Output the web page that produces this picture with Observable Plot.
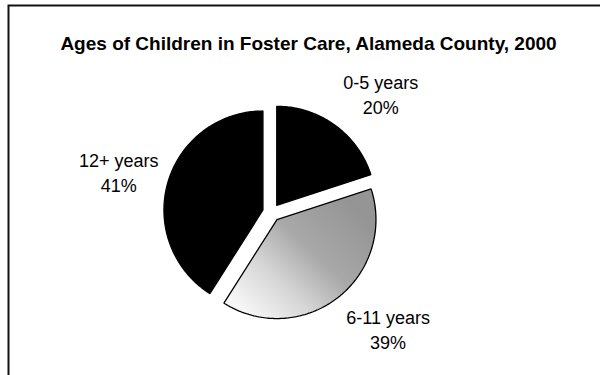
<!DOCTYPE html>
<html><head><meta charset="utf-8">
<script src="https://cdn.jsdelivr.net/npm/d3@7"></script>
<script src="https://cdn.jsdelivr.net/npm/@observablehq/plot@0.6"></script>
<style>
html,body{margin:0;padding:0;background:#fff;}
#chart{width:600px;height:375px;overflow:hidden;}
</style></head><body><div id="chart"></div>
<script>
const title = "Ages of Children in Foster Care, Alameda County, 2000";
const categories = ["0-5 years", "6-11 years", "12+ years"];
const shares = [20, 39, 41];

// layout constants (pixels)
const radiusPx = 99;
const font = "'Liberation Sans', Arial, Helvetica, sans-serif";

const total = d3.sum(shares);
const explode = 0.09;      // slice offset, in radius units
const labelRho = 1.18;     // label corner distance, in radius units
const wedgePoints = [];
const labelRows = [];
let acc = 0;
categories.forEach((cat, i) => {
  const a0 = acc / total * 2 * Math.PI;
  acc += shares[i];
  const a1 = acc / total * 2 * Math.PI;
  const mid = (a0 + a1) / 2;
  const ox = explode * Math.sin(mid), oy = explode * Math.cos(mid);
  const pts = [[ox, oy]];
  const n = Math.max(2, Math.ceil((a1 - a0) / (Math.PI / 180)));
  for (let k = 0; k <= n; k++) {
    const a = a0 + (a1 - a0) * k / n;
    pts.push([ox + Math.sin(a), oy + Math.cos(a)]);
  }
  pts.push([ox, oy]);
  pts.forEach(([x, y]) => wedgePoints.push({cat, x, y}));
  const hw = cat.length * 4.5 / radiusPx;
  const hh = 30 / radiusPx;
  labelRows.push({
    text: `${cat}\n${shares[i]}%`,
    x: labelRho * Math.sin(mid) + Math.sign(Math.sin(mid)) * hw,
    y: labelRho * Math.cos(mid) + Math.cos(mid) * hh
  });
});

const cx = 271, cy = 212;
const svg = Plot.plot({
  width: 600,
  height: 375,
  margin: 0,
  style: {background: "#fff", fontFamily: font, overflow: "hidden"},
  x: {domain: [-1, 1], range: [cx - radiusPx, cx + radiusPx], axis: null},
  y: {domain: [-1, 1], range: [cy + radiusPx, cy - radiusPx], axis: null},
  color: {type: "ordinal", domain: categories, range: ["#000", "url(#fill611)", "#000"]},
  marks: [
    Plot.frame({stroke: "#111", strokeWidth: 2, insetLeft: 8, insetTop: 5, insetRight: -10, insetBottom: -10}),
    Plot.line(wedgePoints, {x: "x", y: "y", z: "cat", fill: "cat", stroke: "#000", strokeWidth: 1.3, strokeLinejoin: "miter", curve: "linear"}),
    Plot.text(labelRows, {x: "x", y: "y", text: "text", fontSize: 18, lineHeight: 25 / 18, lineAnchor: "middle", textAnchor: "middle", fill: "#000", fontFamily: font}),
    Plot.text([title], {frameAnchor: "top", dx: 8, dy: 36, lineAnchor: "top", fontSize: 19, fontWeight: "bold", fill: "#000", fontFamily: font})
  ]
});

const ns = "http://www.w3.org/2000/svg";
const defs = document.createElementNS(ns, "defs");
const grad = document.createElementNS(ns, "linearGradient");
grad.setAttribute("id", "fill611");
grad.setAttribute("x1", "0.9"); grad.setAttribute("y1", "0.2");
grad.setAttribute("x2", "0.1"); grad.setAttribute("y2", "0.9");
[[0, "#959595"], [0.4, "#a8a8a8"], [0.7, "#d6d6d6"], [1, "#f6f6f6"]].forEach(([o, c]) => {
  const s = document.createElementNS(ns, "stop");
  s.setAttribute("offset", o); s.setAttribute("stop-color", c);
  grad.appendChild(s);
});
defs.appendChild(grad);
svg.insertBefore(defs, svg.firstChild);
document.getElementById("chart").appendChild(svg);
</script></body></html>
